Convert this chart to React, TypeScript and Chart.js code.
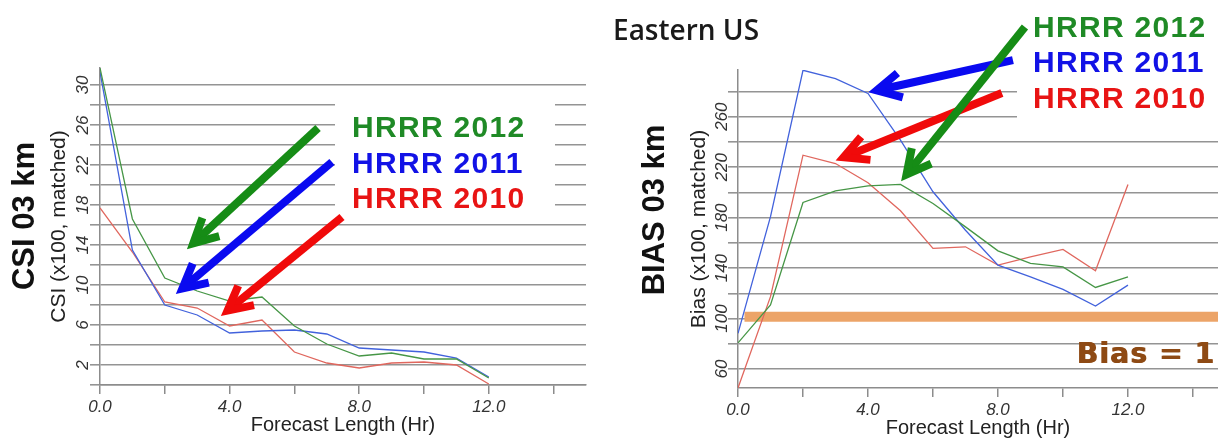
import React, { useEffect, useRef } from "react";
import { Chart, registerables } from "chart.js";

Chart.register(...registerables);

// ---------- data ----------
const hours = [0, 1, 2, 3, 4, 5, 6, 7, 8, 9, 10, 11, 12];

const csiHrrr2012 = [31.7, 16.6, 10.7, 9.4, 8.4, 8.8, 5.9, 4.1, 2.9, 3.2, 2.6, 2.6, 0.7];
const csiHrrr2011 = [31.3, 13.5, 8.0, 7.0, 5.2, 5.4, 5.5, 5.1, 3.7, 3.5, 3.3, 2.7, 0.8];
const csiHrrr2010 = [17.7, 13.3, 8.3, 7.7, 5.9, 6.5, 3.3, 2.2, 1.7, 2.2, 2.3, 2.0, 0.1];

const biasHrrr2012 = [80.7, 110.8, 192, 201.2, 205.2, 206.3, 191.2, 172.7, 153.7, 143.7, 141.0, 124.7, 133.1];
const biasHrrr2011 = [88.3, 180.8, 296.8, 290.2, 278.4, 241.4, 200.5, 170.0, 142.4, 133.1, 123.1, 109.9, 126.5];
const biasHrrr2010 = [45.0, 117.4, 229.5, 222.9, 207.6, 185.4, 155.6, 156.9, 142.4, 149.0, 154.8, 137.9, 206.3];

const biasOneLevel = 101.5;
const biasOneSpan = [0.2, 14.77];

const seriesNames = ["HRRR 2012", "HRRR 2011", "HRRR 2010"];
const xLabelHours = [0, 4, 8, 12];
const csiTickLabels = [2, 6, 10, 14, 18, 22, 26, 30];
const biasTickLabels = [60, 100, 140, 180, 220, 260];

// ---------- styles ----------
const FONT = '"Liberation Sans", Arial, Helvetica, sans-serif';
const LINE_COLORS = ["#469646", "#4262dc", "#e0675e"];
const TEXT_COLORS = ["#1f8a26", "#1212e6", "#e81414"];
const ARROW_COLORS = ["#168c16", "#0a0af0", "#f00a0a"];

// arrow annotations in data units (hours, value)
const csiArrows = [
  { c: 0, from: [6.73, 25.7], to: [2.72, 13.7] },
  { c: 1, from: [7.16, 22.3], to: [2.38, 9.2] },
  { c: 2, from: [7.47, 16.8], to: [3.77, 7.0] },
];
const biasArrows = [
  { c: 1, from: [8.46, 304.9], to: [4.06, 279.6] },
  { c: 2, from: [8.12, 278.8], to: [3.05, 225.7] },
  { c: 0, from: [8.83, 331.1], to: [5.05, 209.8] },
];

function drawArrow(ctx: CanvasRenderingContext2D, x1: number, y1: number, x2: number, y2: number, color: string) {
  const ang = Math.atan2(y1 - y2, x1 - x2);
  const tx = x2 + Math.cos(ang) * 7;
  const ty = y2 + Math.sin(ang) * 7;
  ctx.save();
  ctx.strokeStyle = color;
  ctx.lineWidth = 8;
  ctx.lineCap = "butt";
  ctx.beginPath();
  ctx.moveTo(x1, y1);
  ctx.lineTo(tx + Math.cos(ang) * 3, ty + Math.sin(ang) * 3);
  ctx.stroke();
  const L = 27;
  const a = 0.48;
  ctx.lineJoin = "miter";
  ctx.miterLimit = 10;
  ctx.beginPath();
  ctx.moveTo(tx + L * Math.cos(ang + a), ty + L * Math.sin(ang + a));
  ctx.lineTo(tx, ty);
  ctx.lineTo(tx + L * Math.cos(ang - a), ty + L * Math.sin(ang - a));
  ctx.stroke();
  ctx.restore();
}

type PanelCfg = {
  canvasW: number;
  title: string;
  titleX: number;
  titleY: number;
  yTitle: string;
  yTitlePad: number;
  yMin: number;
  yMax: number;
  yStep: number;
  yLabels: number[];
  yWidth: number;
  yTickPad: number;
  xMax: number;
  xHeight: number;
  xTitlePadBottom: number;
  padTop: number;
  padRight: number;
  series: number[][];
  arrows: { c: number; from: number[]; to: number[] }[];
  legendBox: { x: number; y: number; w: number; h: number };
  legendX: number;
  legendY: number[];
  extraText?: boolean;
};

function makePlugin(cfg: PanelCfg) {
  return {
    id: "panelAnnotations",
    beforeDatasetsDraw(chart: any) {
      const ctx = chart.ctx as CanvasRenderingContext2D;
      const b = cfg.legendBox;
      ctx.save();
      ctx.fillStyle = "#ffffff";
      ctx.fillRect(b.x, b.y, b.w, b.h);
      ctx.restore();
    },
    afterDatasetsDraw(chart: any) {
      const ctx = chart.ctx as CanvasRenderingContext2D;
      const xs = chart.scales.x;
      const ys = chart.scales.y;
      // big rotated panel title
      ctx.save();
      ctx.translate(cfg.titleX, cfg.titleY);
      ctx.rotate(-Math.PI / 2);
      ctx.textAlign = "center";
      ctx.textBaseline = "middle";
      ctx.font = `bold 31px ${FONT}`;
      ctx.fillStyle = "#111111";
      ctx.fillText(cfg.title, 0, 0);
      ctx.restore();
      // legend text
      ctx.save();
      ctx.font = `bold 30px ${FONT}`;
      (ctx as any).letterSpacing = "1.3px";
      ctx.textAlign = "left";
      ctx.textBaseline = "alphabetic";
      seriesNames.forEach((n, i) => {
        ctx.fillStyle = TEXT_COLORS[i];
        ctx.fillText(n, cfg.legendX, cfg.legendY[i]);
      });
      ctx.restore();
      // extra texts for the bias panel
      if (cfg.extraText) {
        ctx.save();
        ctx.font = `600 28px "Open Sans", sans-serif`;
        ctx.fillStyle = "#1a1a1a";
        ctx.textBaseline = "alphabetic";
        ctx.fillText("Eastern US", 13, 40);
        ctx.restore();
        ctx.save();
        ctx.font = `bold 28px "DejaVu Sans", sans-serif`;
        (ctx as any).letterSpacing = "1.2px";
        ctx.fillStyle = "#8e4a14";
        ctx.textAlign = "right";
        ctx.textBaseline = "alphabetic";
        ctx.fillText("Bias = 1", cfg.canvasW - 3, 363);
        ctx.fillText("Bias = 1", cfg.canvasW - 2, 363);
        ctx.restore();
      }
      // arrows
      cfg.arrows.forEach((a) => {
        drawArrow(
          ctx,
          xs.getPixelForValue(a.from[0]),
          ys.getPixelForValue(a.from[1]),
          xs.getPixelForValue(a.to[0]),
          ys.getPixelForValue(a.to[1]),
          ARROW_COLORS[a.c]
        );
      });
    },
  };
}

function Panel({ cfg, left }: { cfg: PanelCfg; left: number }) {
  const ref = useRef<HTMLCanvasElement | null>(null);
  useEffect(() => {
    if (!ref.current) return;
    const datasets: any[] = cfg.series.map((vals, i) => ({
      label: seriesNames[i],
      data: hours.map((h, k) => ({ x: h, y: vals[k] })),
      borderColor: LINE_COLORS[i],
      backgroundColor: LINE_COLORS[i],
      borderWidth: 1.3,
      pointRadius: 0,
      tension: 0,
      fill: false,
      order: 1,
    }));
    if (cfg.extraText) {
      datasets.push({
        label: "Bias = 1",
        data: biasOneSpan.map((h) => ({ x: h, y: biasOneLevel })),
        borderColor: "#eca468",
        borderWidth: 10,
        borderCapStyle: "butt",
        pointRadius: 0,
        fill: false,
        order: 5,
      });
    }
    const chart = new Chart(ref.current, {
      type: "line",
      data: { datasets },
      plugins: [makePlugin(cfg)],
      options: {
        responsive: false,
        animation: false,
        devicePixelRatio: 1,
        layout: { padding: { top: cfg.padTop, right: cfg.padRight, left: 0, bottom: 0 } },
        plugins: { legend: { display: false }, tooltip: { enabled: false }, title: { display: false } },
        scales: {
          x: {
            type: "linear",
            min: 0,
            max: cfg.xMax,
            ticks: {
              stepSize: 2,
              includeBounds: false,
              autoSkip: false,
              minRotation: 0,
              maxRotation: 0,
              padding: 3,
              color: "#333333",
              font: { family: FONT, size: 17, style: "italic" },
              callback: (v: any) => (xLabelHours.includes(Number(v)) ? Number(v).toFixed(1) : ""),
            },
            grid: { drawOnChartArea: false, drawTicks: true, tickLength: 9, color: "#8c8c8c", lineWidth: 1.5 },
            border: { display: true, color: "#8c8c8c", width: 1.5 },
            title: {
              display: true,
              text: "Forecast Length (Hr)",
              color: "#222222",
              font: { family: FONT, size: 20 },
              padding: { top: 0, bottom: cfg.xTitlePadBottom },
            },
            afterFit: (s: any) => {
              s.height = cfg.xHeight;
              s.paddingLeft = 0;
              s.paddingRight = 0;
            },
          },
          y: {
            type: "linear",
            min: cfg.yMin,
            max: cfg.yMax,
            ticks: {
              stepSize: cfg.yStep,
              includeBounds: false,
              autoSkip: false,
              minRotation: 90,
              maxRotation: 90,
              crossAlign: "center",
              padding: cfg.yTickPad,
              color: "#333333",
              font: { family: FONT, size: 17, style: "italic" },
              callback: (v: any) => (cfg.yLabels.includes(Number(v)) ? String(v) : ""),
            },
            grid: { color: "#949494", lineWidth: 1.6, drawTicks: true, tickLength: 10 },
            border: { display: true, color: "#8c8c8c", width: 1.5 },
            title: {
              display: true,
              text: cfg.yTitle,
              color: "#222222",
              font: { family: FONT, size: 21 },
              padding: { top: cfg.yTitlePad, bottom: 0 },
            },
            afterFit: (s: any) => {
              s.width = cfg.yWidth;
              s.paddingTop = 0;
              s.paddingBottom = 0;
            },
          },
        },
      } as any,
    });
    return () => chart.destroy();
  }, [cfg]);
  return (
    <canvas
      ref={ref}
      width={cfg.canvasW}
      height={440}
      style={{ position: "absolute", left, top: 0, width: cfg.canvasW, height: 440 }}
    />
  );
}

const csiPanel: PanelCfg = {
  canvasW: 600,
  title: "CSI 03 km",
  titleX: 25,
  titleY: 216,
  yTitle: "CSI (x100, matched)",
  yTitlePad: 47,
  yMin: 0,
  yMax: 31.7,
  yStep: 2,
  yLabels: csiTickLabels,
  yWidth: 100,
  yTickPad: -2.5,
  xMax: 15,
  xHeight: 55,
  xTitlePadBottom: 3,
  padTop: 68,
  padRight: 14,
  series: [csiHrrr2012, csiHrrr2011, csiHrrr2010],
  arrows: csiArrows,
  legendBox: { x: 335, y: 94, w: 220, h: 120 },
  legendX: 352,
  legendY: [137, 173, 208],
};

const biasPanel: PanelCfg = {
  canvasW: 618,
  title: "BIAS 03 km",
  titleX: 55,
  titleY: 210,
  yTitle: "Bias (x100, matched)",
  yTitlePad: 87,
  yMin: 45,
  yMax: 297,
  yStep: 20,
  yLabels: biasTickLabels,
  yWidth: 138,
  yTickPad: -8,
  xMax: 14.77,
  xHeight: 52,
  xTitlePadBottom: 0,
  padTop: 70,
  padRight: 0,
  series: [biasHrrr2012, biasHrrr2011, biasHrrr2010],
  arrows: biasArrows,
  legendBox: { x: 417, y: 0, w: 201, h: 130 },
  legendX: 433,
  legendY: [37, 72, 108],
  extraText: true,
};

export default function App() {
  return (
    <div
      style={{
        position: "fixed",
        left: 0,
        top: 0,
        width: 1218,
        height: 440,
        background: "#ffffff",
        overflow: "hidden",
      }}
    >
      <Panel cfg={csiPanel} left={0} />
      <Panel cfg={biasPanel} left={600} />
    </div>
  );
}
